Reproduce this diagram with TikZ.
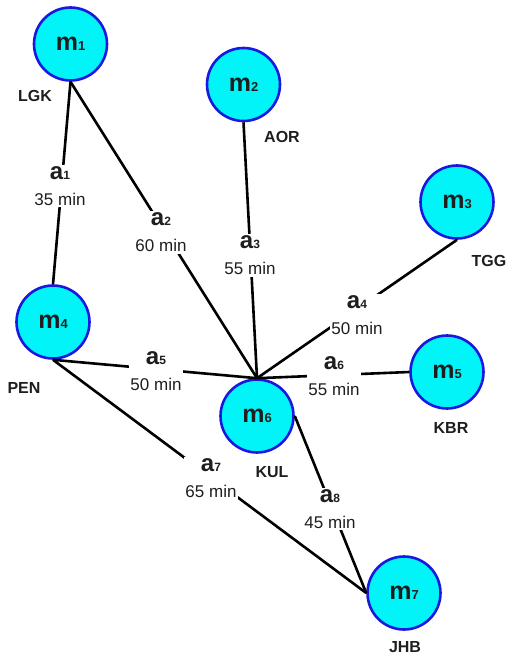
\documentclass[tikz,border=0pt]{standalone}
\usepackage{fontspec}
\setmainfont{Liberation Sans}
\definecolor{nodefill}{HTML}{00F4F8}
\definecolor{nodeline}{HTML}{1818E0}
\definecolor{txt}{HTML}{1E1E1E}
\newcommand{\mlab}[1]{{\fontsize{25}{25}\selectfont\bfseries m}{\fontsize{13}{13}\selectfont\bfseries #1}}
\newcommand{\elab}[2]{{\fontsize{24}{26}\selectfont\bfseries a{\fontsize{12}{12}\selectfont #1}}\\#2 min}
\begin{document}
\begin{tikzpicture}[x=1pt,y=-1pt,
  city/.style={circle,draw=nodeline,fill=nodefill,line width=2.6pt,minimum size=73pt,inner sep=0pt,text=txt},
  tag/.style={font=\fontsize{16}{16}\selectfont\bfseries,text=txt,text height=11.5pt,text depth=0pt,inner sep=0pt},
  lab/.style={fill=white,align=center,inner sep=1.5pt,text=txt,font=\fontsize{17}{26}\selectfont},
  edge/.style={line width=2.6pt,black}]
\useasboundingbox (0,0) rectangle (513,658);
% cities
\node[city] (m1) at (70.5,44) {\mlab{1}};
\node[city] (m2) at (243.5,84.5) {\mlab{2}};
\node[city] (m3) at (457,202) {\mlab{3}};
\node[city] (m4) at (53,322) {\mlab{4}};
\node[city] (m5) at (447,372) {\mlab{5}};
\node[city] (m6) at (257,416) {\mlab{6}};
\node[city] (m7) at (404,593) {\mlab{7}};
% names
\node[tag] (n1) at (35,96) {LGK};
\node[tag] (n2) at (282,137) {AOR};
\node[tag] (n3) at (489,261) {TGG};
\node[tag] (n4) at (24,388) {PEN};
\node[tag] (n5) at (451,428) {KBR};
\node[tag] (n6) at (272,472) {KUL};
\node[tag] (n7) at (405,647) {JHB};
% edges
\coordinate (h) at (m6.north);
\draw[edge] (m1.south) -- (m4.north);
\draw[edge] (m1.south) -- (h);
\draw[edge] (m2.south) -- (h);
\draw[edge] (m3.south) -- (h);
\draw[edge] (m4.south) -- (h);
\draw[edge] (h) -- (m5.west);
\draw[edge] (m4.south) -- (m7.west);
\draw[edge] (m6.east) -- (m7.west);
% edge labels
\node[lab] (e1) at (60,186) {\elab{1}{35}};
\node[lab] (e2) at (161,232.5) {\elab{2}{60}};
\node[lab] (e3) at (250,255.5) {\elab{3}{55}};
\node[lab] (e4) at (357,315) {\elab{4}{50}};
\node[lab] (e5) at (156,371) {\elab{5}{50}};
\node[lab] (e6) at (334,376.5) {\elab{6}{55}};
\node[lab] (e7) at (211,478.5) {\elab{7}{65}};
\node[lab] (e8) at (330,509) {\elab{8}{45}};
\end{tikzpicture}
\end{document}
